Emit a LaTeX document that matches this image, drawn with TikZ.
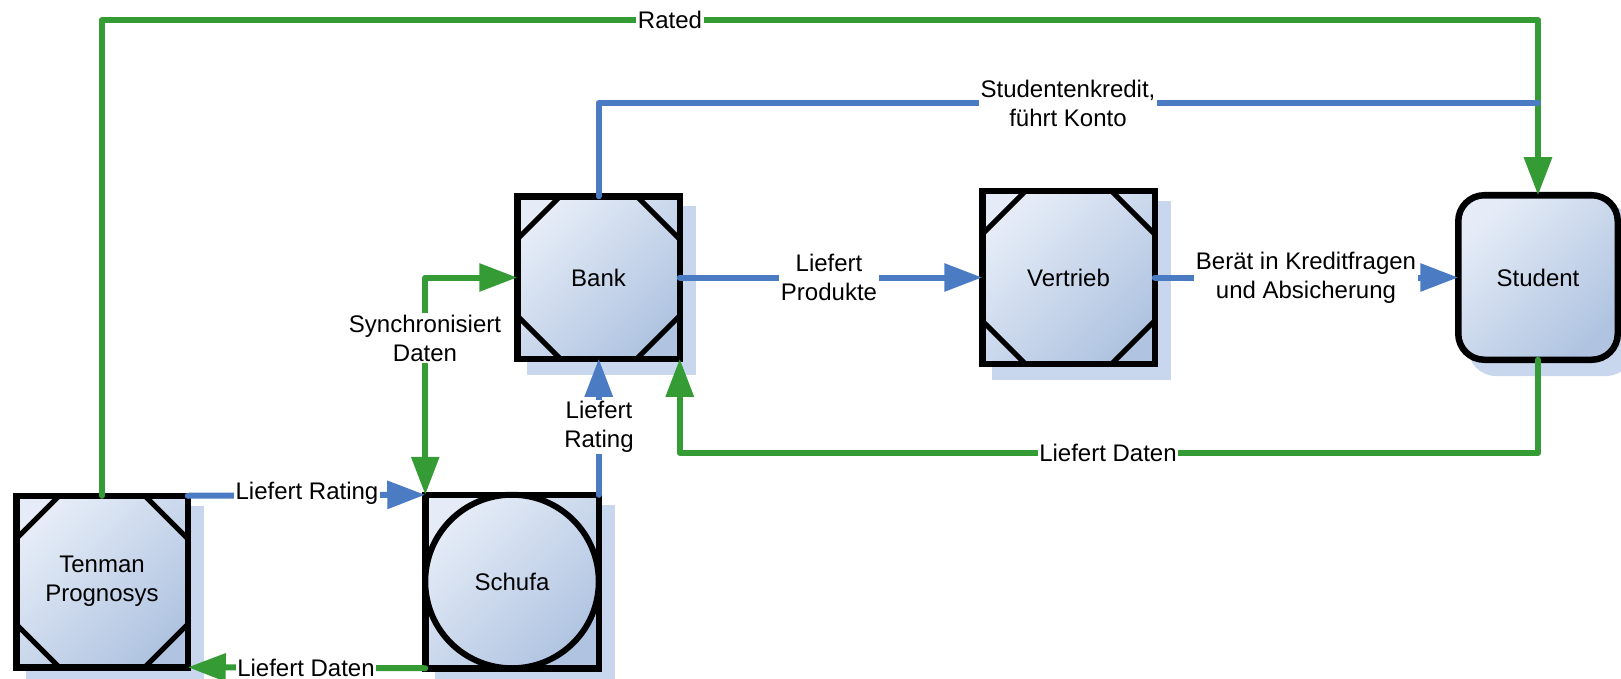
\documentclass[tikz,border=0pt]{standalone}
\usepackage{fontspec}
\setmainfont{Liberation Sans}
\usetikzlibrary{arrows.meta,calc,backgrounds}
\definecolor{cgreen}{RGB}{53,155,53}
\definecolor{cblue}{RGB}{74,123,195}
\definecolor{boxlight}{RGB}{229,236,247}
\definecolor{boxdark}{RGB}{176,196,225}
\definecolor{shadowc}{RGB}{200,214,238}
\newcommand\fs{\fontsize{24}{29}\selectfont}
\newcommand\cornercuts[2]{%
  \draw[cutline] ($(#1.north west)+(#2,0)$) -- ($(#1.north west)+(0,#2)$);
  \draw[cutline] ($(#1.north east)+(-#2,0)$) -- ($(#1.north east)+(0,#2)$);
  \draw[cutline] ($(#1.south west)+(#2,0)$) -- ($(#1.south west)+(0,-#2)$);
  \draw[cutline] ($(#1.south east)+(-#2,0)$) -- ($(#1.south east)+(0,-#2)$);
}
\newcommand\boxshadow[2][]{%
  \fill[shadowc,#1] ($(#2.north west)+(9.75,9.75)$) rectangle ($(#2.south east)+(16.25,16.25)$);
}
\begin{document}
\begin{tikzpicture}[x=1pt,y=-1pt,
  box/.style={draw=black, line width=6.5pt, top color=boxlight, bottom color=boxdark,
    shading angle=45, inner sep=0pt, outer sep=0pt, align=center, font=\fs},
  cutline/.style={draw=black, line width=5pt},
  gline/.style={draw=cgreen, line width=6pt, line cap=round, line join=round},
  bline/.style={draw=cblue, line width=6pt, line cap=round, line join=round},
  arr/.style={-{Triangle[length=38pt,width=27pt]}},
  arrs/.style={{Triangle[length=38pt,width=27pt]}-{Triangle[length=38pt,width=27pt]}},
  lbl/.style={fill=white, inner sep=1.5pt, align=center, font=\fs}]
\useasboundingbox (0,0) rectangle (1621,679);

% boxes
\node[box, minimum width=162.5pt, minimum height=162.5pt] (bank) at (598.5,277.5) {Bank};
\node[box, minimum width=172.5pt, minimum height=172.5pt] (vertrieb) at (1068.5,277.5) {Vertrieb};
\node[box, rounded corners=26pt, minimum width=159.5pt, minimum height=164.5pt] (student) at (1538,277.5) {Student};
\node[box, minimum width=171.5pt, minimum height=171.5pt] (tenman) at (102,581.5) {Tenman\\Prognosys};
\node[box, minimum width=173.5pt, minimum height=173.5pt] (schufa) at (512,581.5) {};
\node[box, circle, line width=6pt, minimum size=173.5pt] (schufac) at (schufa.center) {Schufa};

\cornercuts{bank}{43}
\cornercuts{vertrieb}{43}
\cornercuts{tenman}{43}

% shadows
\begin{pgfonlayer}{background}
  \boxshadow{bank}
  \boxshadow{vertrieb}
  \boxshadow{tenman}
  \boxshadow{schufa}
  \boxshadow[rounded corners=28pt]{student}
\end{pgfonlayer}

% helper coordinates
\coordinate (rt) at (1538,20);
\coordinate (bt) at (1538,103);

% connectors
\draw[gline, arr] (tenman.north) |- (rt) -- (student.north);
\node[lbl] (lrated) at (670,20) {Rated};

\draw[bline] (bank.north) |- (bt);
\node[lbl] (lkredit) at (1068,103) {Studentenkredit,\\führt Konto};

\draw[bline, arr] (bank.east) -- (vertrieb.west);
\node[lbl] (lprod) at (829,277.5) {Liefert\\Produkte};

\draw[bline, arr] (vertrieb.east) -- (student.west);
\node[lbl] (lberat) at (1306,277.5) {Berät in Kreditfragen\\und Absicherung};

\draw[gline, arr] (student.south) -- ++(0,93) -| (bank.south east);
\node[lbl] (lld1) at (1108,453) {Liefert Daten};

\draw[gline, arrs] (schufa.north west) |- (bank.west);
\node[lbl] (lsync) at (425,338) {Synchronisiert\\Daten};

\draw[bline, arr] (schufa.north east) -- (schufa.north east |- bank.south);
\node[lbl] (lrat1) at (599,427) {Liefert\\Rating};

\draw[bline, arr] (tenman.north east) -- (schufa.north west);
\node[lbl] (lrat2) at (307,493) {Liefert Rating};

\draw[gline, arr] (schufa.south west) -- (tenman.south east);
\node[lbl] (lld2) at (306,668) {Liefert Daten};
\end{tikzpicture}
\end{document}
